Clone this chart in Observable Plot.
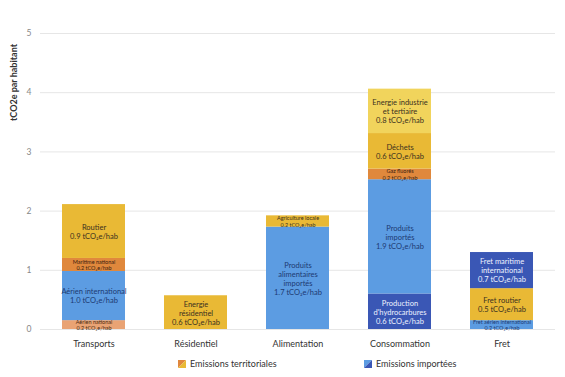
<!DOCTYPE html>
<html><head><meta charset="utf-8">
<script src="https://cdn.jsdelivr.net/npm/d3@7"></script>
<script src="https://cdn.jsdelivr.net/npm/@observablehq/plot@0.6"></script>
<style>
body{margin:0;background:#fff;font-family:Lato,"Noto Sans",sans-serif;}
#wrap{position:relative;width:565px;height:377px;}
#legend{position:absolute;top:352px;left:0;width:565px;height:25px;font-size:9px;color:#333;}
.item{position:absolute;top:6px;display:flex;align-items:center;gap:4px;}
</style></head>
<body><div id="wrap"><div id="chart"></div>
<div id="legend">
<div class="item" style="left:178px"><svg width="8" height="8"><polygon points="0,0 8,0 0,8" fill="#E0873E"/><polygon points="8,0 8,8 0,8" fill="#E9B935"/></svg><span>Emissions territoriales</span></div>
<div class="item" style="left:364px"><svg width="8" height="8"><polygon points="0,0 8,0 0,8" fill="#5C9CE2"/><polygon points="8,0 8,8 0,8" fill="#3A57B5"/></svg><span>Emissions importées</span></div>
</div></div>
<script>
const categories = ["Transports", "Résidentiel", "Alimentation", "Consommation", "Fret"];
const yTicks = [0, 1, 2, 3, 4, 5];
const segCategory = ["Transports","Transports","Transports","Transports","Résidentiel","Alimentation","Alimentation","Consommation","Consommation","Consommation","Consommation","Consommation","Fret","Fret","Fret"];
const segLabel = [
  "Aérien national\n0.2 tCO₂e/hab",
  "Aérien international\n1.0 tCO₂e/hab",
  "Maritime national\n0.2 tCO₂e/hab",
  "Routier\n0.9 tCO₂e/hab",
  "Energie\nrésidentiel\n0.6 tCO₂e/hab",
  "Produits\nalimentaires\nimportés\n1.7 tCO₂e/hab",
  "Agriculture locale\n0.2 tCO₂e/hab",
  "Production\nd'hydrocarbures\n0.6 tCO₂e/hab",
  "Produits\nimportés\n1.9 tCO₂e/hab",
  "Gaz fluorés\n0.2 tCO₂e/hab",
  "Déchets\n0.6 tCO₂e/hab",
  "Energie industrie\net tertiaire\n0.8 tCO₂e/hab",
  "Fret aérien international\n0.2 tCO₂e/hab",
  "Fret routier\n0.5 tCO₂e/hab",
  "Fret maritime\ninternational\n0.7 tCO₂e/hab"
];
const segValue = [0.15, 0.83, 0.22, 0.91, 0.57, 1.73, 0.19, 0.60, 1.93, 0.18, 0.60, 0.75, 0.15, 0.54, 0.61];
const segKind = ["saumon","bleu","orange","jaune","jaune","bleu","jaune","bleuFonce","bleu","orange","jaune","jauneClair","bleu","jaune","bleuFonce"];

const fillOf = {saumon:"#E9A374", bleu:"#5C9CE2", orange:"#E0883C", jaune:"#E9B935", jauneClair:"#F1D45C", bleuFonce:"#3A57B5"};
const textOf = {saumon:"#4a2a10", bleu:"#1d3a72", orange:"#3a2010", jaune:"#3a3020", jauneClair:"#3a3020", bleuFonce:"#eef2ff"};

const rows = segValue.map((v, i) => ({cat: segCategory[i], label: segLabel[i], value: v, kind: segKind[i]}));

const chart = Plot.plot({
  width: 565, height: 352,
  marginTop: 33, marginBottom: 23, marginLeft: 40, marginRight: 10,
  style: {fontFamily: "Lato, 'Noto Sans', sans-serif", background: "white", overflow: "visible"},
  x: {domain: categories, paddingInner: 0.38, paddingOuter: 0.196, label: null},
  y: {domain: [0, 5], label: null},
  color: {type: "identity"},
  marks: [
    Plot.gridY(yTicks, {stroke: "#e6e6e6", strokeOpacity: 1}),
    Plot.axisY(yTicks, {tickSize: 0, tickPadding: 9, fontSize: 8.5, fill: "#888", label: null, tickFormat: d3.format("d")}),
    Plot.axisX({tickSize: 0, tickPadding: 11, fontSize: 9, fill: "#333", label: null}),
    Plot.barY(rows, Plot.stackY({x: "cat", y: "value", fill: d => fillOf[d.kind]})),
    Plot.text(rows, Plot.stackY({x: "cat", y: "value", text: "label",
      fill: d => textOf[d.kind],
      fontSize: d => d.value < 0.25 ? 5.5 : 7.5,
      lineHeight: 1.2})),
    Plot.text(["tCO2e par habitant"], {frameAnchor: "top-left", dx: -26, dy: 49, rotate: -90, textAnchor: "middle", lineAnchor: "middle", fontWeight: "bold", fontSize: 9, fill: "#333"})
  ]
});
document.getElementById("chart").appendChild(chart);
</script></body></html>
